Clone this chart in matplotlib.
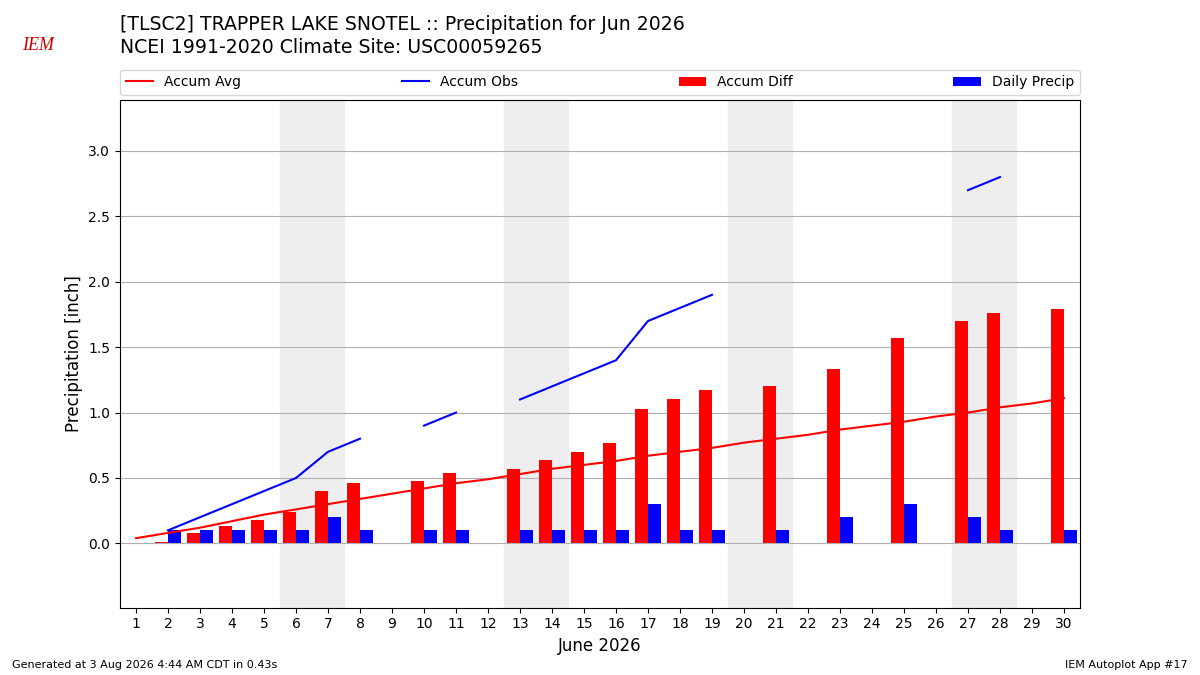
import numpy as np
import matplotlib
matplotlib.use('Agg')
import matplotlib.pyplot as plt

nan = np.nan
days = list(range(1, 31))
accum_avg = [0.04, 0.08, 0.12, 0.17, 0.22, 0.26, 0.30, 0.34, 0.38, 0.42,
             0.46, 0.49, 0.53, 0.57, 0.60, 0.63, 0.67, 0.70, 0.73, 0.77,
             0.80, 0.83, 0.87, 0.90, 0.93, 0.97, 1.00, 1.04, 1.07, 1.11]
accum_obs = [nan, 0.1, 0.2, 0.3, 0.4, 0.5, 0.7, 0.8, nan, 0.9,
             1.0, nan, 1.1, 1.2, 1.3, 1.4, 1.7, 1.8, 1.9, nan,
             2.0, nan, 2.2, nan, 2.5, nan, 2.7, 2.8, nan, 2.9]
accum_diff = [nan, 0.01, 0.08, 0.13, 0.18, 0.24, 0.40, 0.46, nan, 0.48,
              0.54, nan, 0.57, 0.64, 0.70, 0.77, 1.03, 1.10, 1.17, nan,
              1.20, nan, 1.33, nan, 1.57, nan, 1.70, 1.76, nan, 1.79]
daily_precip = [nan, 0.1, 0.1, 0.1, 0.1, 0.1, 0.2, 0.1, nan, 0.1,
                0.1, nan, 0.1, 0.1, 0.1, 0.1, 0.3, 0.1, 0.1, nan,
                0.1, nan, 0.2, nan, 0.3, nan, 0.2, 0.1, nan, 0.1]
weekends = [(6, 7), (13, 14), (20, 21), (27, 28)]

x = np.array(days)

fig = plt.figure(figsize=(12, 6.75), dpi=100)
ax = fig.add_axes([0.1, 0.1, 0.8, 0.752])

for a, b in weekends:
    ax.axvspan(a - 0.5, b + 0.5, color='#eeeeee', zorder=0)

ax.plot(x, accum_avg, color='r', label='Accum Avg', zorder=3)
ax.plot(x, accum_obs, color='b', label='Accum Obs', zorder=3)
ax.bar(x - 0.2, accum_diff, width=0.4, color='r', label='Accum Diff', zorder=2)
ax.bar(x + 0.2, daily_precip, width=0.4, color='b', label='Daily Precip', zorder=2)

ax.set_xlim(0.5, 30.5)
ax.set_ylim(-0.49, 3.39)
ax.set_xticks(days)
ax.set_yticks(np.arange(0, 3.01, 0.5))
ax.grid(True, axis='y', zorder=1)
ax.set_axisbelow(True)
ax.set_xlabel('June 2026', fontsize=12)
ax.set_ylabel('Precipitation [inch]', fontsize=12)

ax.legend(loc='lower left', bbox_to_anchor=(0, 1.01, 1, 0.1), ncol=4,
          mode='expand', borderaxespad=0, fontsize=10)

fig.text(0.1, 0.964, '[TLSC2] TRAPPER LAKE SNOTEL :: Precipitation for Jun 2026',
         fontsize=13.6, va='center')
fig.text(0.1, 0.929, 'NCEI 1991-2020 Climate Site: USC00059265',
         fontsize=13.6, va='center')
fig.text(0.032, 0.933, 'IEM', color='#cc0000', fontsize=13, style='italic',
         family='Liberation Serif', ha='center', va='center')
fig.text(0.01, 0.01, 'Generated at 3 Aug 2026 4:44 AM CDT in 0.43s', fontsize=8)
fig.text(0.99, 0.01, 'IEM Autoplot App #17', fontsize=8, ha='right')

fig.savefig('out.png', dpi=100)
